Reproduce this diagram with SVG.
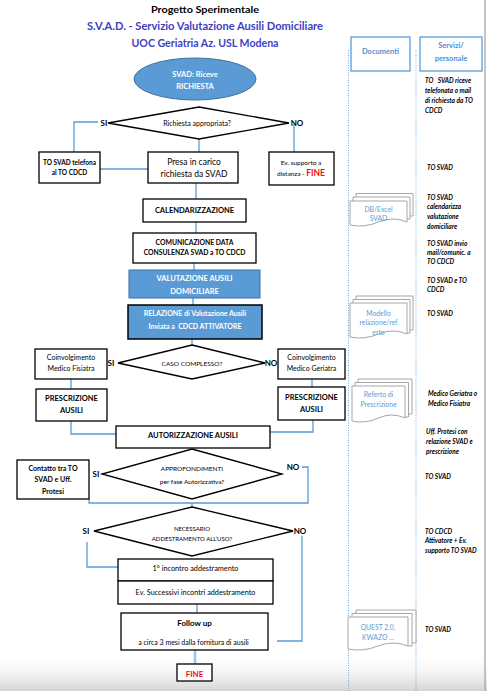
<svg xmlns="http://www.w3.org/2000/svg" width="487" height="691" viewBox="0 0 487 691">
<style>
.t{font-family:Lato,"Liberation Sans",sans-serif;text-anchor:middle;fill:#000}
.b{font-weight:bold}
.w{fill:#fff;font-weight:bold}
.blue{fill:#4f8fd6}
.red{fill:#ee1111;font-weight:bold}
.r{font-family:Lato,"Liberation Sans",sans-serif;font-style:italic;font-weight:bold;font-size:6.5px;fill:#000}
.box{fill:#fff;stroke:#000;stroke-width:1.3}
.con{fill:none;stroke:#5b9bd5;stroke-width:1.3}
.dot{fill:none;stroke:#6fa8dc;stroke-width:1;stroke-dasharray:1 1.5}
.hdr{fill:#fff;stroke:#5b9bd5;stroke-width:1.3}
.sheet{fill:#fff;stroke:#a6a6a6;stroke-width:1}
.dt{font-family:Lato,"Liberation Sans",sans-serif;text-anchor:middle;fill:#5b9bd5;font-size:6.8px}
.pre{white-space:pre}
</style>
<defs>
<linearGradient id="shade" x1="0" y1="0" x2="0" y2="1">
<stop offset="0" stop-color="#ffffff" stop-opacity="0"/>
<stop offset="1" stop-color="#d4d4d4"/>
</linearGradient>
</defs>
<rect x="0" y="0" width="487" height="691" fill="#fff"/>
<rect x="0" y="652" width="487" height="39" fill="url(#shade)"/>
<line x1="485" y1="0" x2="485" y2="691" stroke="#b0b0b0" stroke-width="1.5"/>

<g id="title">
<text class="t b" x="205" y="12.5" font-size="10" textLength="108" lengthAdjust="spacingAndGlyphs">Progetto Sperimentale</text>
<text class="t b" x="205" y="30" font-size="10.5" style="fill:#4040c4" textLength="236" lengthAdjust="spacingAndGlyphs">S.V.A.D. - Servizio Valutazione Ausili Domiciliare</text>
<text class="t b" x="205" y="46.5" font-size="10.5" style="fill:#4040c4" textLength="147" lengthAdjust="spacingAndGlyphs">UOC Geriatria Az. USL Modena</text>
</g>

<g id="lanes">
<line class="dot" x1="348.5" y1="50" x2="348.5" y2="691"/>
<line class="dot" x1="416" y1="50" x2="416" y2="691"/>
<g id="hdr-documenti">
<rect class="hdr" x="351" y="37" width="59" height="34"/>
<text class="t b blue" x="380.5" y="54" font-size="7.5">Documenti</text>
</g>
<g id="hdr-servizi">
<rect class="hdr" x="420" y="37" width="62" height="34"/>
<text class="t b blue" x="451" y="48" font-size="7.5">Servizi/</text>
<text class="t b blue" x="451" y="61" font-size="7.5">personale</text>
</g>
</g>

<g id="connectors">
<path class="con" d="M98,122 H74 V152"/>
<path class="con" d="M294,124 V152"/>
<path class="con" d="M199,139 V152"/>
<path class="con" d="M100,169 H148"/>
<path class="con" d="M196,183 V199"/>
<path class="con" d="M196,222 V233"/>
<path class="con" d="M194,263 V270"/>
<path class="con" d="M193,298 V305"/>
<path class="con" d="M192,339 V345"/>
<path class="con" d="M71,379 V389"/>
<path class="con" d="M312,379 V387"/>
<path class="con" d="M71,421 V434 H116"/>
<path class="con" d="M270,432 H313 V420"/>
<path class="con" d="M302,467 H308 V503 H89 V499"/>
<path class="con" d="M192,503 V507"/>
<path class="con" d="M87,542 V567 H118"/>
<path class="con" d="M302,536 V641 H277"/>
<path class="con" d="M197,604 V613"/>
<path fill="none" stroke="#9dc3e6" stroke-width="2.5" d="M195,650 V664"/>
</g>

<g id="start">
<ellipse cx="195" cy="79" rx="61" ry="21" fill="#5b9bd5" stroke="#41719c" stroke-width="1"/>
<text class="t w" x="195" y="76.5" font-size="7.5">SVAD: Riceve</text>
<text class="t w" x="195" y="88.5" font-size="7.5">RICHIESTA</text>
</g>

<g id="d-appropriata">
<polygon class="box" points="199,107 289,123 199,139 108,123"/>
<text class="t" x="197" y="125.5" font-size="7">Richiesta appropriata?</text>
<text class="t b" x="104" y="126" font-size="8">SI</text>
<text class="t b" x="297" y="126" font-size="8">NO</text>
</g>

<g id="n-telefona">
<rect class="box" x="39" y="152" width="61" height="31"/>
<text class="t b" x="69.5" y="164.5" font-size="6.5">TO SVAD telefona</text>
<text class="t b" x="69.5" y="174.5" font-size="6.5">al TO CDCD</text>
</g>

<g id="n-presa">
<rect class="box" x="148" y="152" width="90" height="31"/>
<text class="t" x="194" y="165" font-size="8.5">Presa in carico</text>
<text class="t" x="194" y="176.5" font-size="8.5">richiesta da SVAD</text>
</g>

<g id="n-distanza">
<rect class="box" x="269" y="152" width="65" height="33"/>
<text class="t" x="301" y="164.5" font-size="6.5">Ev. supporto a</text>
<text class="t" x="301" y="175.5" font-size="6.5">distanza - <tspan class="red" font-size="8.5">FINE</tspan></text>
</g>

<g id="n-calendarizzazione">
<rect class="box" x="143" y="199" width="103" height="23"/>
<text class="t b" x="194.5" y="213" font-size="7.5">CALENDARIZZAZIONE</text>
</g>

<g id="n-comunicazione">
<rect class="box" x="133" y="233" width="123" height="30"/>
<text class="t b" x="194.5" y="244.5" font-size="6.8">COMUNICAZIONE DATA</text>
<text class="t b" x="194.5" y="255" font-size="6.8">CONSULENZA SVAD a TO CDCD</text>
</g>

<g id="n-valutazione">
<rect x="129" y="270" width="131" height="28" fill="#5b9bd5" stroke="#3a6ea5" stroke-width="1"/>
<text class="t w" x="194.5" y="281" font-size="7.5">VALUTAZIONE AUSILI</text>
<text class="t w" x="194.5" y="293.5" font-size="7.5">DOMICILIARE</text>
</g>

<g id="n-relazione">
<rect x="128" y="305" width="134" height="34" fill="#5b9bd5" stroke="#000" stroke-width="1.5"/>
<text class="t w" x="195" y="315.5" font-size="7">RELAZIONE di Valutazione Ausili</text>
<text class="t w pre" x="195" y="328.5" font-size="7">Inviata a  CDCD ATTIVATORE</text>
</g>

<g id="d-complesso">
<polygon class="box" points="192,345 265,363 192,379 118,363"/>
<text class="t" x="192" y="365.5" font-size="6.5">CASO COMPLESSO?</text>
<text class="t b" x="111" y="366" font-size="8">SI</text>
<text class="t b" x="271" y="366" font-size="8">NO</text>
</g>

<g id="n-fisiatra">
<rect class="box" x="35" y="349" width="72" height="30"/>
<text class="t" x="71" y="359.5" font-size="7">Coinvolgimento</text>
<text class="t" x="71" y="370.5" font-size="7">Medico Fisiatra</text>
</g>

<g id="n-geriatra">
<rect class="box" x="278" y="349" width="67" height="30"/>
<text class="t" x="311.5" y="359.5" font-size="7">Coinvolgimento</text>
<text class="t" x="311.5" y="370.5" font-size="7">Medico Geriatra</text>
</g>

<g id="n-prescrizione-sx">
<rect class="box" x="36" y="389" width="71" height="32"/>
<text class="t b" x="71.5" y="401" font-size="7.5">PRESCRIZIONE</text>
<text class="t b" x="71.5" y="413" font-size="7.5">AUSILI</text>
</g>

<g id="n-prescrizione-dx">
<rect class="box" x="278" y="387" width="67" height="33"/>
<text class="t b" x="311.5" y="400" font-size="7.5">PRESCRIZIONE</text>
<text class="t b" x="311.5" y="412" font-size="7.5">AUSILI</text>
</g>

<g id="n-autorizzazione">
<rect class="box" x="116" y="426" width="154" height="22"/>
<text class="t b" x="193" y="437.5" font-size="7.5">AUTORIZZAZIONE AUSILI</text>
</g>

<g id="d-approfondimenti">
<polygon class="box" points="192,449 282,474 192,499 102,474"/>
<text class="t" x="192" y="471" font-size="6.5">APPROFONDIMENTI</text>
<text class="t" x="192" y="484" font-size="6.5">per fase Autorizzativa?</text>
<text class="t b" x="96" y="477" font-size="8">SI</text>
<text class="t b" x="293" y="470" font-size="8">NO</text>
</g>

<g id="n-contatto">
<rect class="box" x="17" y="460" width="72" height="39"/>
<text class="t b" x="53" y="470.5" font-size="7">Contatto tra TO</text>
<text class="t b" x="53" y="481.5" font-size="7">SVAD e Uff.</text>
<text class="t b" x="53" y="494" font-size="7">Protesi</text>
</g>

<g id="d-addestramento">
<polygon class="box" points="192,507 293,531 192,556 94,531"/>
<text class="t" x="192" y="531" font-size="6">NECESSARIO</text>
<text class="t" x="192" y="540.5" font-size="6">ADDESTRAMENTO ALL’USO?</text>
<text class="t b" x="86" y="534" font-size="8">SI</text>
<text class="t b" x="300" y="534" font-size="8">NO</text>
</g>

<g id="n-incontro1">
<rect class="box" x="118" y="559" width="155" height="22"/>
<text class="t" x="195.5" y="570.5" font-size="7.3">1° incontro addestramento</text>
</g>

<g id="n-successivi">
<rect class="box" x="118" y="581" width="155" height="23"/>
<text class="t" x="195.5" y="594.5" font-size="7.3">Ev. Successivi incontri addestramento</text>
</g>

<g id="n-followup">
<rect class="box" x="121" y="613" width="147" height="37"/>
<text class="t b" x="194.5" y="626" font-size="8">Follow up</text>
<text class="t" x="193.5" y="644.5" font-size="7">a circa 3 mesi dalla fornitura di ausili</text>
</g>

<g id="n-fine">
<rect class="box" x="177" y="664" width="35" height="17"/>
<text class="t red" x="194.5" y="676.5" font-size="8">FINE</text>
</g>

<g id="doc-db">
<path class="sheet" d="M356,201 V193.5 H413 V216 H409"/>
<path class="sheet" d="M353,201 V197 H410 V219 H407"/>
<path class="sheet" d="M350,201 H407 V222 Q392.75,216 378.5,222 T350,225 Z"/>
<text class="dt" x="378.5" y="211.5">DB/Excel</text>
<text class="dt" x="378.5" y="221">SVAD</text>
</g>

<g id="doc-modello">
<path class="sheet" d="M356,303 V296 H413 V330 H409"/>
<path class="sheet" d="M353,303 V299.5 H410 V333 H407"/>
<path class="sheet" d="M350,303 H407 V334 Q392.75,328 378.5,334 T350,337 Z"/>
<text class="dt" x="378.5" y="315.5">Modello</text>
<text class="dt" x="378.5" y="325">relazione/ref</text>
<text class="dt" x="378.5" y="334.5">erto</text>
</g>

<g id="doc-referto">
<path class="sheet" d="M358,386 V379 H412 V414 H408"/>
<path class="sheet" d="M355,386 V382.5 H408.5 V417 H405"/>
<path class="sheet" d="M352,386 H405 V418 Q391.75,412 378.5,418 T352,421 Z"/>
<text class="dt" x="378.5" y="397">Referto di</text>
<text class="dt" x="378.5" y="406.5">Prescrizione</text>
</g>

<g id="doc-quest">
<path class="sheet" d="M356,617 V610 H416 V643 H412"/>
<path class="sheet" d="M352,617 V613.5 H412 V646 H408"/>
<path class="sheet" d="M348,617 H408 V646 Q393,640 378,646 T348,649 Z"/>
<text class="dt" x="378" y="629.5">QUEST 2.0,</text>
<text class="dt" x="378" y="639.5">KWAZO ...</text>
</g>

<g id="servizi-text">
<text class="r pre" x="425" y="83">TO   SVAD riceve</text>
<text class="r" x="425" y="93">telefonata o mail</text>
<text class="r" x="425" y="103">di richiesta da TO</text>
<text class="r" x="425" y="113">CDCD</text>
<text class="r" x="427" y="169.5">TO SVAD</text>
<text class="r" x="427" y="199.5">TO SVAD</text>
<text class="r" x="427" y="209">calendarizza</text>
<text class="r" x="427" y="219">valutazione</text>
<text class="r" x="427" y="228.5">domiciliare</text>
<text class="r" x="427" y="245.5">TO SVAD invio</text>
<text class="r" x="427" y="254.5">mail/comunic. a</text>
<text class="r" x="427" y="264">TO CDCD</text>
<text class="r" x="427" y="282.5">TO SVAD e TO</text>
<text class="r" x="427" y="291.5">CDCD</text>
<text class="r" x="427" y="315.5">TO SVAD</text>
<text class="r" x="428" y="395.5">Medico Geriatra o</text>
<text class="r" x="428" y="405.5">Medico Fisiatra</text>
<text class="r" x="426" y="433.5">Uff. Protesi con</text>
<text class="r" x="426" y="444">relazione SVAD e</text>
<text class="r" x="426" y="454">prescrizione</text>
<text class="r" x="425" y="479">TO SVAD</text>
<text class="r" x="425" y="533.5">TO CDCD</text>
<text class="r" x="425" y="543">Attivatore + Ev.</text>
<text class="r" x="425" y="552.5">supporto TO SVAD</text>
<text class="r" x="425" y="631.5">TO SVAD</text>
</g>
</svg>
